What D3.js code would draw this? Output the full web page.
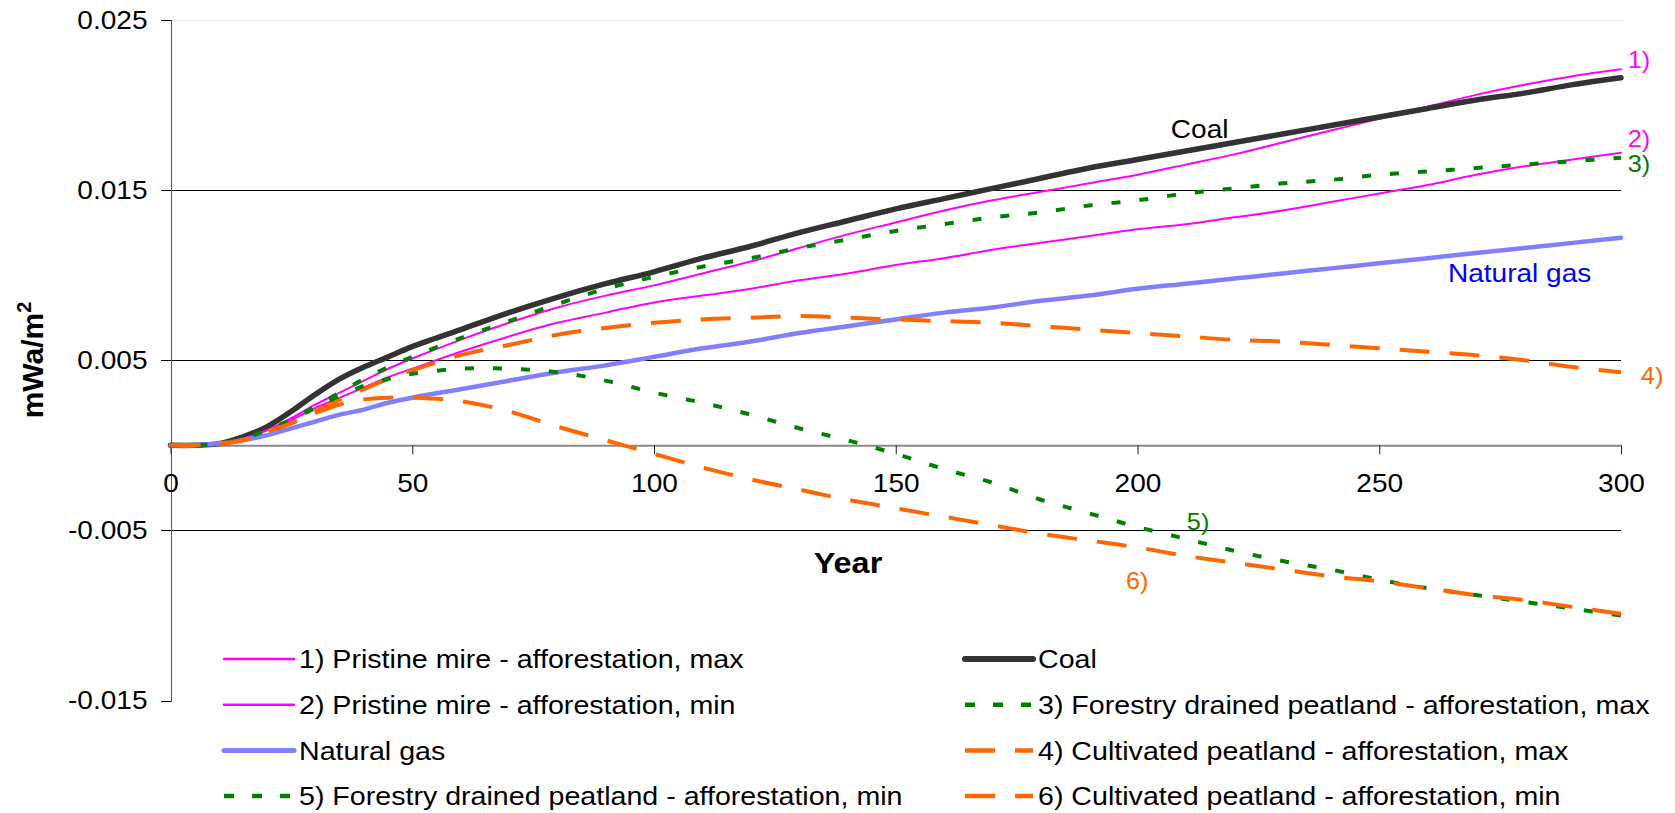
<!DOCTYPE html>
<html lang="en">
<head>
<meta charset="UTF-8">
<title>Radiative forcing</title>
<style>
  body { margin: 0; background: #fff; }
  svg { display: block; font-family: "Liberation Sans", Arial, sans-serif; }
</style>
</head>
<body>
<svg width="1675" height="813"></svg>
<script src="https://d3js.org/d3.v7.min.js"></script>
<script>
// years shared by every series
var years = [0, 5, 10, 15, 20, 25, 30, 35, 40, 45, 50, 60, 70, 80, 90, 100, 110, 120, 130, 140,
    150, 160, 170, 180, 190, 200, 210, 220, 230, 240, 250, 260, 270, 280, 290, 300]

// values (mWa/m2)
var pristineMax = [0, 0, .0001, .0004, .0009, .0016, .0024, .0031, .0038, .0045, .0051, .0062, .0072, .0081, .0088, .0094, .0101, .0108,
    .0116, .0124, .0131, .0138, .0144, .0149, .0154, .0159, .0165, .0171, .0178, .0185, .0192, .0199, .0206, .0212, .0217, .0221]
var coal = [0, 0, .0001, .0005, .0011, .0020, .0030, .0039, .0046, .0052, .0058, .0068, .0078, .0087, .0095, .0102, .0110, .0117,
    .0125, .0132, .0139, .0145, .0151, .0157, .0163, .0168, .0173, .0178, .0183, .0188, .0193, .0198, .0203, .0207, .0212, .0216]
var pristineMin = [0, 0, .0001, .0004, .0009, .0015, .0022, .0028, .0034, .0040, .0045, .0055, .0064, .0072, .0078, .0084, .0088, .0092,
    .0097, .0101, .0106, .0110, .0115, .0119, .0123, .0127, .0130, .0134, .0138, .0143, .0148, .0153, .0159, .0164, .0168, .0172]
var forestryMax = [0, 0, .0001, .0004, .0009, .0015, .0023, .0031, .0039, .0046, .0052, .0063, .0073, .0083, .0092, .0099, .0105, .0110,
    .0116, .0121, .0126, .0130, .0134, .0137, .0141, .0144, .0148, .0151, .0154, .0156, .0159, .0161, .0163, .0165, .0167, .0169]
var naturalGas = [0, 0, .0001, .0003, .0006, .0010, .0014, .0018, .0021, .0025, .0028, .0033, .0038, .0043, .0047, .0052, .0057, .0061,
    .0066, .0070, .0074, .0078, .0081, .0085, .0088, .0092, .0095, .0098, .0101, .0104, .0107, .0110, .0113, .0116, .0119, .0122]
var cultivatedMax = [0, 0, .0001, .0003, .0008, .0013, .0020, .0027, .0033, .0039, .0044, .0053, .0059, .0065, .0069, .0072, .0074, .0075,
    .0076, .0075, .0074, .0073, .0072, .0070, .0068, .0066, .0064, .0062, .0061, .0059, .0057, .0055, .0053, .0050, .0046, .0043]
var forestryMin = [0, 0, .0001, .0004, .0009, .0015, .0022, .0029, .0035, .0039, .0042, .0045, .0045, .0043, .0038, .0031, .0025, .0018,
    .0010, .0003, -.0005, -.0014, -.0022, -.0032, -.0040, -.0048, -.0055, -.0062, -.0068, -.0073, -.0079, -.0084, -.0088, -.0092, -.0096, -.0100]
var cultivatedMin = [0, 0, .0001, .0003, .0008, .0013, .0019, .0024, .0027, .0028, .0028, .0026, .0020, .0011, .0003, -.0005, -.0013, -.0020,
    -.0026, -.0032, -.0037, -.0042, -.0047, -.0052, -.0056, -.0060, -.0065, -.0069, -.0073, -.0077, -.0080, -.0084, -.0088, -.0091, -.0095, -.0099]

var xTicks = [0, 50, 100, 150, 200, 250, 300]
var yTicks = [-0.015, -0.005, 0.005, 0.015, 0.025]
var gridValues = [-0.005, 0.005, 0.015]

var seriesNames = ["1) Pristine mire - afforestation, max", "Coal", "2) Pristine mire - afforestation, min",
    "3) Forestry drained peatland - afforestation, max", "Natural gas", "4) Cultivated peatland - afforestation, max",
    "5) Forestry drained peatland - afforestation, min", "6) Cultivated peatland - afforestation, min"]
var seriesValues = [pristineMax, coal, pristineMin, forestryMax, naturalGas, cultivatedMax, forestryMin, cultivatedMin]

// line styles
var styles = [
    { color: "#ff00ff", width: 2, dash: null },
    { color: "#333333", width: 5.5, dash: null },
    { color: "#ff00ff", width: 2, dash: null },
    { color: "#008000", width: 4, dash: "9,19" },
    { color: "#8080ff", width: 4.5, dash: null },
    { color: "#ff6600", width: 4, dash: "30,20" },
    { color: "#008000", width: 4, dash: "9,19" },
    { color: "#ff6600", width: 4, dash: "30,20" }
]

// in-plot labels: text, [year, value] anchor, colour
var labels = [
    { text: "Coal", at: [206.9, 0.01806], color: "#000", size: 25.5 },
    { text: "1)", at: [301.4, 0.02218], color: "#ff00ff", size: 23 },
    { text: "2)", at: [301.4, 0.01753], color: "#ff00ff", size: 23 },
    { text: "3)", at: [301.4, 0.01607], color: "#008000", size: 23 },
    { text: "Natural gas", at: [264.2, 0.0096], color: "#0000ff", size: 25.5 },
    { text: "4)", at: [304.1, 0.0036], color: "#ff6600", size: 23 },
    { text: "5)", at: [210.2, -0.00498], color: "#008000", size: 23 },
    { text: "6)", at: [197.6, -0.00845], color: "#ff6600", size: 23 }
]

// the text in the source picture is a little wide
var SX = 1.1

var svg = d3.select('svg')
var x = d3.scaleLinear().domain([0, 300]).range([170.5, 1621])
var y = d3.scaleLinear().domain([-0.015, 0.025]).range([700.5, 20])

// faint top border
svg.append("line").attr("x1", x(0)).attr("x2", x(300) + 4).attr("y1", y(0.025)).attr("y2", y(0.025))
    .style("stroke", "#e8e8e8").style("stroke-width", 1).attr("shape-rendering", "crispEdges")

// gridlines
svg.selectAll(".grid").data(gridValues).enter().append("line").attr("class", "grid")
    .attr("x1", x(0)).attr("x2", x(300)).attr("y1", d => y(d)).attr("y2", d => y(d))
    .style("stroke", "#000").style("stroke-width", 1).attr("shape-rendering", "crispEdges")

// y axis
var yAxis = svg.append("g").attr("transform", `translate(${x(0)},0)`)
    .call(d3.axisLeft(y).tickValues(yTicks).tickSize(10).tickPadding(13).tickFormat(d => d.toFixed(3)))
yAxis.select(".domain").style("stroke", "#555").attr("shape-rendering", "crispEdges")
yAxis.selectAll(".tick line").style("stroke", "#000").attr("shape-rendering", "crispEdges")
yAxis.selectAll("text").style("font-size", "25.5px").style("fill", "#000").attr("font-family", null)
    .attr("x", -23 / SX).attr("transform", `scale(${SX},1)`)

// x axis at zero
var xAxis = svg.append("g").attr("transform", `translate(0,${y(0)})`)
    .call(d3.axisBottom(x).tickValues(xTicks).tickSize(9).tickPadding(20).tickSizeOuter(0))
xAxis.select(".domain").style("stroke", "#888").style("stroke-width", 2)
xAxis.selectAll(".tick line").style("stroke", "#222")
xAxis.selectAll("text").style("font-size", "25.5px").style("fill", "#000").attr("font-family", null)
    .attr("transform", `scale(${SX},1)`)

// lines
var line = d3.line().x((d, i) => x(years[i])).y(d => y(d)).curve(d3.curveCatmullRom.alpha(0.5))
svg.selectAll(".series").data(seriesValues).enter().append("path").attr("class", "series")
    .attr("d", d => line(d))
    .style("fill", "none")
    .style("stroke", (d, i) => styles[i].color)
    .style("stroke-width", (d, i) => styles[i].width)
    .style("stroke-dasharray", (d, i) => styles[i].dash)
    .style("stroke-linecap", (d, i) => styles[i].dash ? "butt" : "round")
    .style("stroke-linejoin", "round")

// in-plot labels
svg.selectAll(".lab").data(labels).enter().append("text").attr("class", "lab")
    .attr("transform", d => `translate(${x(d.at[0])},${y(d.at[1])}) scale(${SX},1)`)
    .style("fill", d => d.color).style("font-size", d => d.size + "px")
    .text(d => d.text)

// axis titles
svg.append("text").attr("transform", `translate(848,573) scale(${SX},1)`).attr("text-anchor", "middle")
    .style("font-size", "29.5px").style("font-weight", "bold").text("Year")

var yt = svg.append("text").attr("transform", "translate(43,360) rotate(-90)").attr("text-anchor", "middle")
    .style("font-size", "30px").style("font-weight", "bold")
yt.append("tspan").text("mWa/m")
yt.append("tspan").attr("dy", -12).style("font-size", "20px").text("2")

// legend, two columns, row-major
var legend = svg.selectAll(".leg").data(seriesNames).enter().append("g").attr("class", "leg")
    .attr("transform", (d, i) => `translate(${i % 2 === 0 ? 224 : 965},${659 + Math.floor(i / 2) * 45.7})`)
legend.append("line").attr("x1", 0).attr("x2", (d, i) => i % 2 === 0 ? 70 : 68).attr("y1", 0).attr("y2", 0)
    .style("stroke", (d, i) => styles[i].color)
    .style("stroke-width", (d, i) => styles[i].width + 0.5)
    .style("stroke-dasharray", (d, i) => styles[i].dash ? (styles[i].color === "#008000" ? "10,18" : "30,20") : null)
    .style("stroke-linecap", (d, i) => styles[i].dash ? "butt" : "round")
legend.append("text").attr("transform", (d, i) => `translate(${i % 2 === 0 ? 75 : 73},0) scale(${SX},1)`)
    .attr("dy", "0.36em")
    .style("font-size", "26px").style("fill", "#000").text(d => d)
</script>
</body>
</html>
